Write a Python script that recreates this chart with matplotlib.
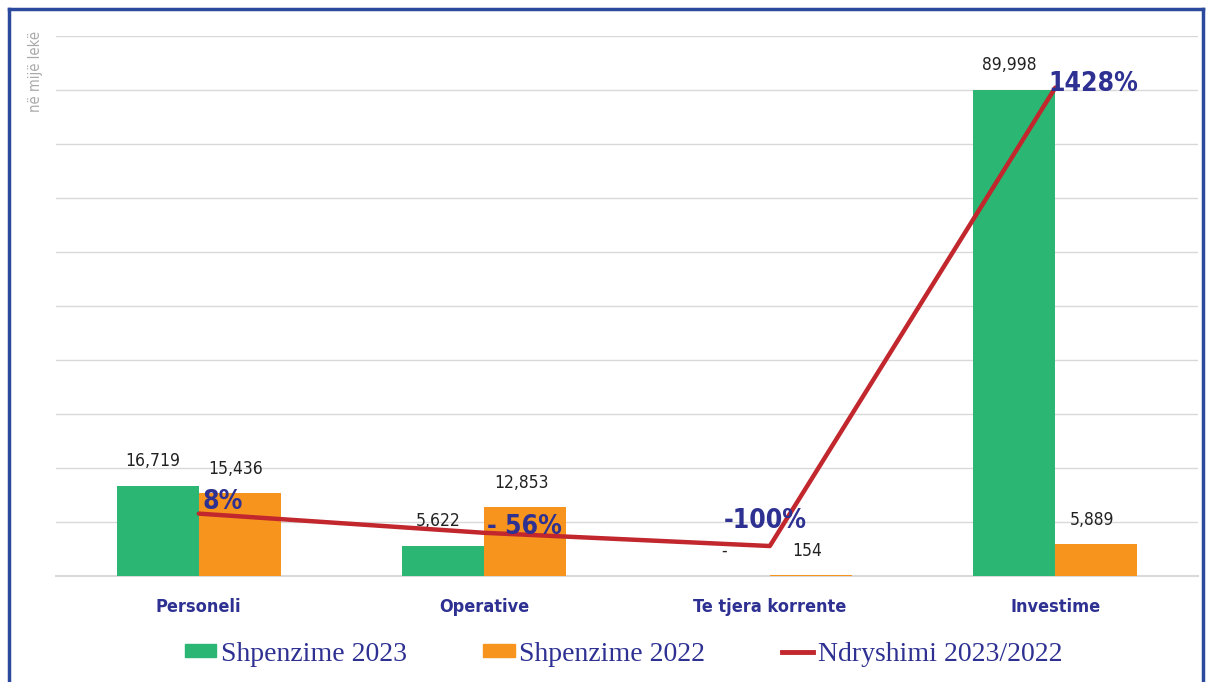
import matplotlib
matplotlib.use("Agg")
from matplotlib import pyplot as plt
from matplotlib import font_manager
from matplotlib.lines import Line2D
from matplotlib.patches import Patch
import numpy as np

categories = ["Personeli", "Operative", "Te tjera korrente", "Investime"]
shpenzime_2023 = [16719, 5622, 0, 89998]
shpenzime_2022 = [15436, 12853, 154, 5889]
ndryshimi = [8, -56, -100, 1428]
labels_2023 = ["16,719", "5,622", "-", "89,998"]
labels_2022 = ["15,436", "12,853", "154", "5,889"]
ndryshimi_labels = ["8%", "- 56%", "-100%", "1428%"]

green = "#2bb673"
orange = "#f7941d"
red = "#c1272d"
navy = "#2e3192"

# kerkojme nje font te ngushte (condensed / narrow) nese ka
cond_files = sorted(f.fname for f in font_manager.fontManager.ttflist
                    if ("Condensed" in f.fname or "Narrow" in f.fname)
                    and "Italic" not in f.fname and "Oblique" not in f.fname)
reg = [f for f in cond_files if "Bold" not in f and "Light" not in f and "Black" not in f and "Semi" not in f and "Medium" not in f and "Thin" not in f]
bold = [f for f in cond_files if f.endswith("Bold.ttf") or "-Bold." in f or "Condensed-Bold" in f or "CondensedBold" in f]
if reg and bold:
    f_reg = font_manager.FontProperties(fname=reg[0])
    f_bold = font_manager.FontProperties(fname=bold[0])
else:
    f_reg = font_manager.FontProperties(family="Roboto")
    f_bold = font_manager.FontProperties(family="Roboto", weight="bold")

def fp(base, size):
    p = base.copy()
    p.set_size(size)
    return p

fig = plt.figure(figsize=(12.08, 6.82), dpi=100)
ax = fig.add_axes([0.0464, 0.1554, 0.9454, 0.7918])

x = np.arange(len(categories))
w = 0.287
b1 = ax.bar(x - w / 2, shpenzime_2023, w, color=green, zorder=2)
b2 = ax.bar(x + w / 2, shpenzime_2022, w, color=orange, zorder=2)

ax.set_xlim(-0.5, 3.5)
ax.set_ylim(0, 100000)
ax.set_yticks(np.arange(0, 100001, 10000))
ax.yaxis.grid(True, color="#d9d9d9", linewidth=1)
ax.axhline(0, color="#d9d9d9", linewidth=1.5, zorder=1, clip_on=False)
ax.set_axisbelow(True)
ax.set_xticks(x)
ax.set_xticklabels(categories, fontproperties=fp(f_bold, 13), color=navy)
for s in ax.spines.values():
    s.set_visible(False)

# etiketat e vlerave mbi shtyllat
for rect, lab in zip(b1, labels_2023):
    ax.annotate(lab, (rect.get_x() + rect.get_width() / 2, rect.get_height()),
                xytext=(-5, 25), textcoords="offset pixels", ha="center", va="center",
                fontproperties=fp(f_reg, 12.5), color="#222222")
for rect, lab in zip(b2, labels_2022):
    ax.annotate(lab, (rect.get_x() + rect.get_width() / 2, rect.get_height()),
                xytext=(-4, 24), textcoords="offset pixels", ha="center", va="center",
                fontproperties=fp(f_reg, 12.5), color="#222222")

# boshti i dyte per ndryshimin ne %
ax2 = ax.twinx()
ax2.set_ylim(-200, 1600)
ax2.axis("off")
ax2.plot(x, ndryshimi, color=red, linewidth=3.2, solid_capstyle="round", zorder=3)
offsets = [(24, 12), (40, 6), (-5, 25), (38, 4)]
for xi, v, lab, off in zip(x, ndryshimi, ndryshimi_labels, offsets):
    ax2.annotate(lab, (xi, v), xytext=off, textcoords="offset pixels", ha="center", va="center",
                 fontproperties=fp(f_bold, 19), color=navy, zorder=4)

ax.tick_params(axis="y", left=False, labelleft=False, right=False)
ax.tick_params(axis="x", bottom=False, pad=12)

fig.text(0.029, 0.955, "në mijë lekë", rotation=90, ha="center", va="top",
         fontproperties=fp(f_reg, 10.5), color="#aaaaaa")

handles = [Patch(color=green), Patch(color=orange), Line2D([], [], color=red, linewidth=3.5)]
fig.legend(handles, ["Shpenzime 2023", "Shpenzime 2022", "Ndryshimi 2023/2022"],
           loc="center", bbox_to_anchor=(0.516, 0.041), ncol=3, frameon=False,
           handlelength=1.15, handleheight=0.3, handletextpad=0.15, columnspacing=2.75,
           prop={"family": "Liberation Serif", "size": 20}, labelcolor=navy)

# korniza blu
frame = "#2b4a9e"
fig.add_artist(Line2D([0.0075, 0.0075], [0, 0.987], color=frame, linewidth=2.5))
fig.add_artist(Line2D([0.0075, 0.9955], [0.987, 0.987], color=frame, linewidth=2.5))
fig.add_artist(Line2D([0.9955, 0.9955], [0, 0.987], color=frame, linewidth=2.5))

fig.savefig("out.png", dpi=100)
